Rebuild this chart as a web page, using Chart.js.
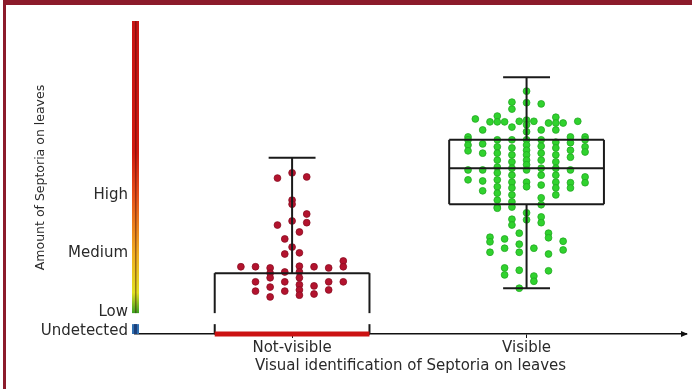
<!DOCTYPE html>
<html>
<head>
<meta charset="utf-8">
<script src="https://cdn.jsdelivr.net/npm/chart.js@4.4.0/dist/chart.umd.min.js"></script>
<style>
  html, body { margin: 0; padding: 0; background: #fff; }
  #wrap { position: relative; width: 692px; height: 389px; overflow: hidden; }
  #wrap canvas { position: absolute; left: 0; top: 0; }
  #frame {
    position: absolute; left: 3px; top: 0; right: 0; bottom: 0;
    border-top: 5px solid #8c1b2b; border-left: 3px solid #8c1b2b;
    pointer-events: none;
  }
</style>
</head>
<body>
<div id="wrap">
  <canvas id="chart" width="692" height="389"></canvas>
  <div id="frame"></div>
</div>
<script>
// categories and axis levels
const categories = ["Not-visible", "Visible"];
const categoryPos = [1, 2];
const levelValues = [0.5, 3.8, 14, 24];
const levelLabels = ["Undetected", "Low", "Medium", "High"];
const axisBreak = [1.7, 3.6]; // gap between "Undetected" and "Low"

// box stats: [min, q1, median, q3, max]
const notVisibleBox = [0, 0, 0, 10.5, 30.4];
const visibleBox = [7.9, 22.4, 28.6, 33.5, 44.3];

// dots: horizontal slot in the swarm, amount on y
const notVisibleSlot = [-2, 2, 0, 0, 0, 2, 2, 0, -2, 1, -1, 0, -1, 1,
  -7, -5, -3, 1, 3, 5, 7, 7, 1, -3, -1, -3, 1,
  -5, -1, 1, 3, 5, -3, 7, -5, -1, 1, 1, 3, 5, -3];
const notVisibleAmount = [26.9, 27.1, 27.8, 23.1, 22.4, 20.7, 19.2, 19.5, 18.8, 17.6, 16.4, 15.0, 13.8, 14.0,
  11.6, 11.6, 11.4, 11.7, 11.6, 11.4, 12.6, 11.6, 10.7, 10.5, 10.7, 9.7, 9.7,
  9.0, 9.0, 8.5, 8.3, 9.0, 8.1, 9.0, 7.4, 7.4, 7.6, 6.7, 6.9, 7.6, 6.4];

const visibleSlot = [
  0, 0, -2, -2, 2, -7, -6, -4, -4, -5, -3, -2, -1, 0, 1, 0, 0, 2, 4, 3, 4, 5, 4, 7, -8, 6, 8,
  -8, -8, -8, -8, -8,
  -6, -6, -6, -6, -6,
  -4, -4, -4, -4, -4, -4, -4, -4, -4, -4, -4,
  -2, -2, -2, -2, -2, -2, -2, -2, -2, -2,
  0, 0, 0, 0, 0, 0, 0, 0, 0,
  2, 2, 2, 2, 2, 2, 2, 2, 2,
  4, 4, 4, 4, 4, 4, 4, 4, 4,
  6, 6, 6, 6, 6, 6,
  8, 8, 8, 8, 8,
  -4, -2, -2, -2, 0, 0, 2, 2,
  -5, -5, -5, -3, -3, -1, -1, -1, 1, 3, 3, 3, 5, 5,
  -3, -3, -1, 1, 1, 3, -1];
const visibleAmount = [
  41.9, 39.9, 40.0, 38.8, 39.7, 37.1, 35.2, 37.6, 36.6, 36.6, 36.6, 35.7, 36.7, 36.9, 36.7, 36.1, 34.9, 35.2, 37.4, 36.4, 36.4, 36.4, 35.2, 36.7, 34.0, 34.0, 34.0,
  33.5, 32.6, 31.6, 28.3, 26.6,
  32.8, 31.2, 28.3, 26.4, 24.7,
  33.5, 32.3, 31.2, 30.0, 28.8, 27.8, 26.6, 25.4, 24.3, 23.1, 21.9,
  33.5, 32.1, 30.9, 29.7, 28.6, 27.4, 26.2, 25.2, 24.0, 22.8,
  33.5, 32.6, 31.7, 30.9, 30.0, 29.2, 28.3, 26.2, 25.4,
  33.5, 32.4, 31.2, 30.0, 28.6, 27.4, 25.7, 23.5, 22.3,
  33.1, 32.1, 30.9, 29.7, 28.6, 27.4, 26.2, 25.2, 24.0,
  33.0, 31.7, 30.5, 28.3, 26.1, 25.2,
  33.5, 32.3, 31.4, 27.1, 26.1,
  21.7, 21.9, 19.8, 18.8, 20.9, 19.7, 20.2, 19.2,
  16.7, 15.9, 14.1, 16.4, 14.8, 17.4, 15.5, 14.1, 14.8, 17.4, 16.6, 13.8, 16.0, 14.5,
  11.4, 10.2, 11.0, 10.0, 9.1, 10.9, 7.9];

// layout constants (not data)
const slotWidth = 0.0312;
const boxHalf = 0.33;
const capHalf = 0.1;
const boxes = [notVisibleBox, visibleBox];

function toPoints(center, slots, amounts) {
  return slots.map((s, i) => ({ x: center + s * slotWidth, y: amounts[i] }));
}

// draw a vertical segment in value space, leaving out the axis break
function vSeg(ctx, yScale, px, a, b) {
  const lo = Math.min(a, b), hi = Math.max(a, b);
  let parts = [[lo, hi]];
  if (lo < axisBreak[1] && hi > axisBreak[0]) {
    parts = [];
    if (lo < axisBreak[0]) parts.push([lo, axisBreak[0]]);
    if (hi > axisBreak[1]) parts.push([axisBreak[1], hi]);
  }
  parts.forEach(([p, q]) => {
    ctx.beginPath();
    ctx.moveTo(px, yScale.getPixelForValue(p));
    ctx.lineTo(px, yScale.getPixelForValue(q));
    ctx.stroke();
  });
}

function hSeg(ctx, xScale, yScale, x0, x1, v) {
  const py = yScale.getPixelForValue(v);
  ctx.beginPath();
  ctx.moveTo(xScale.getPixelForValue(x0), py);
  ctx.lineTo(xScale.getPixelForValue(x1), py);
  ctx.stroke();
}

const boxPlugin = {
  id: "boxes",
  afterDatasetDraw(chart, args) {
    if (args.index !== 1) return;
    const { ctx, scales: { x, y } } = chart;
    ctx.save();
    ctx.strokeStyle = "#1a1a1a";
    ctx.lineWidth = 2;
    boxes.forEach((b, i) => {
      const c = categoryPos[i];
      const [mn, q1, med, q3, mx] = b;
      hSeg(ctx, x, y, c - boxHalf, c + boxHalf, q3);
      hSeg(ctx, x, y, c - boxHalf, c + boxHalf, med);
      hSeg(ctx, x, y, c - boxHalf, c + boxHalf, q1);
      vSeg(ctx, y, x.getPixelForValue(c - boxHalf), q1, q3);
      vSeg(ctx, y, x.getPixelForValue(c + boxHalf), q1, q3);
      vSeg(ctx, y, x.getPixelForValue(c), q3, mx);
      hSeg(ctx, x, y, c - capHalf, c + capHalf, mx);
      if (mn < q1) {
        vSeg(ctx, y, x.getPixelForValue(c), mn, q1);
        hSeg(ctx, x, y, c - capHalf, c + capHalf, mn);
      }
    });
    ctx.restore();
  }
};

// coloured y axis line + arrow on the x axis
const axisPlugin = {
  id: "axisDeco",
  afterDraw(chart) {
    const { ctx, chartArea, scales: { y } } = chart;
    const left = chartArea.left - 3;
    const top = y.getPixelForValue(y.max);
    const lowEnd = y.getPixelForValue(axisBreak[1]);
    const g = ctx.createLinearGradient(0, top, 0, lowEnd);
    g.addColorStop(0, "#c81414");
    g.addColorStop(0.45, "#d21a10");
    g.addColorStop(0.6, "#e8521a");
    g.addColorStop(0.8, "#f0b020");
    g.addColorStop(0.93, "#e0e020");
    g.addColorStop(1, "#3aa020");
    ctx.save();
    ctx.fillStyle = g;
    ctx.fillRect(left, top, 7, lowEnd - top);
    ctx.fillStyle = "rgba(60,10,10,0.45)";
    ctx.fillRect(left + 3, top, 1.5, lowEnd - top);
    const bTop = y.getPixelForValue(axisBreak[0]);
    const bBot = y.getPixelForValue(0);
    ctx.fillStyle = "#2f6fb0";
    ctx.fillRect(left, bTop, 7, bBot - bTop);
    ctx.fillStyle = "#1b3f7a";
    ctx.fillRect(left + 2, bTop, 3, bBot - bTop);
    // arrow head
    const ax = chartArea.right, ay = chartArea.bottom;
    ctx.fillStyle = "#111";
    ctx.beginPath();
    ctx.moveTo(ax + 2, ay);
    ctx.lineTo(ax - 5, ay - 3);
    ctx.lineTo(ax - 5, ay + 3);
    ctx.closePath();
    ctx.fill();
    ctx.restore();
  }
};

const font = "'DejaVu Sans', sans-serif";

new Chart(document.getElementById("chart"), {
  type: "scatter",
  data: {
    datasets: [
      {
        label: "Undetected",
        type: "line",
        data: [
          { x: categoryPos[0] - boxHalf, y: notVisibleBox[0] },
          { x: categoryPos[0] + boxHalf, y: notVisibleBox[0] }
        ],
        borderColor: "#cc1212",
        borderWidth: 5,
        pointRadius: 0,
        clip: false
      },
      {
        label: categories[0],
        data: toPoints(categoryPos[0], notVisibleSlot, notVisibleAmount),
        backgroundColor: "#b3132e",
        borderColor: "#8a0e22",
        borderWidth: 0.8,
        pointRadius: 3.4
      },
      {
        label: categories[1],
        data: toPoints(categoryPos[1], visibleSlot, visibleAmount),
        backgroundColor: "#30d22e",
        borderColor: "#22a822",
        borderWidth: 0.8,
        pointRadius: 3.4
      }
    ]
  },
  options: {
    responsive: false,
    animation: false,
    layout: { padding: { top: 21, right: 6, bottom: 0, left: 0 } },
    plugins: { legend: { display: false }, tooltip: { enabled: false } },
    scales: {
      x: {
        type: "linear",
        min: 0.33,
        max: 2.68,
        afterFit: (s) => { s.height = 55; },
        afterBuildTicks: (s) => { s.ticks = categoryPos.map(v => ({ value: v })); },
        grid: { display: true, drawOnChartArea: false, drawTicks: true, tickLength: 4, color: "#111" },
        border: { display: true, color: "#111", width: 1.5 },
        ticks: {
          autoSkip: false, maxRotation: 0, padding: 1,
          color: "#2a2a2a", font: { family: font, size: 15 },
          callback: (v, i) => categories[i]
        },
        title: {
          display: true,
          text: "Visual identification of Septoria on leaves",
          color: "#2a2a2a",
          font: { family: font, size: 15 },
          padding: { top: 0, bottom: 14 }
        }
      },
      y: {
        min: 0,
        max: 54,
        afterFit: (s) => { s.width = 135; },
        afterBuildTicks: (s) => { s.ticks = levelValues.map(v => ({ value: v })); },
        grid: { display: false, drawTicks: false, tickLength: 0 },
        border: { display: false },
        ticks: {
          padding: 7, color: "#2a2a2a", font: { family: font, size: 15 },
          callback: (v, i) => levelLabels[i]
        },
        title: {
          display: true,
          text: "Amount of Septoria on leaves",
          color: "#2a2a2a",
          font: { family: font, size: 12.5 },
          padding: { top: 33, bottom: 0 }
        }
      }
    }
  },
  plugins: [boxPlugin, axisPlugin]
});
</script>
</body>
</html>
